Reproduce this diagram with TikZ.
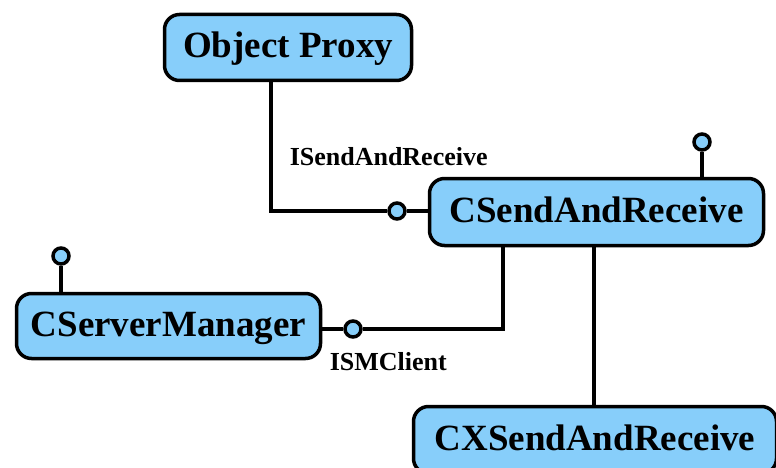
\documentclass[tikz,border=0pt]{standalone}
\usepackage{fontspec}
\setmainfont{Liberation Serif}
\definecolor{boxblue}{RGB}{135,206,250}
\begin{document}
\begin{tikzpicture}[x=1pt,y=-1pt,
  line width=3.5pt,
  cls/.style={draw=black, fill=boxblue, rounded corners=15pt, inner sep=0pt,
    font=\fontsize{37}{40}\selectfont\bfseries, text height=28pt, text depth=8pt},
  lolli/.style={circle, draw=black, fill=boxblue, minimum size=16pt, inner sep=0pt},
  iface/.style={font=\fontsize{26}{28}\selectfont\bfseries, inner sep=0pt, anchor=base west}]
\useasboundingbox (0,0) rectangle (776,468);
\clip (0,0) rectangle (776,468);

% classes
\node[cls, minimum width=247pt, minimum height=66pt] (op)   at (288,47.5) {Object Proxy};
\node[cls, minimum width=334pt, minimum height=67pt] (csr)  at (596.5,212) {CSendAndReceive};
\node[cls, minimum width=304pt, minimum height=65pt] (csm)  at (168.5,326) {CServerManager};
\node[cls, minimum width=363pt, minimum height=67pt] (cxsr) at (595,440) {CXSendAndReceive};

% interface lollipops
\node[lolli] (isr)  at (397,211) {};
\node[lolli] (csrt) at (702,142) {};
\node[lolli] (csmt) at (61,256) {};
\node[lolli] (ism)  at (353,329) {};

% interface labels
\node[iface] (lisr) at (288,165) {ISendAndReceive};
\node[iface] (lism) at (328,370) {ISMClient};

% connectors
\draw ([xshift=-17pt]op.south) |- (isr.west);
\draw (isr.east) -- (isr.east -| csr.west);
\draw (csrt.south) -- (csrt.south |- csr.north);
\draw (csmt.south) -- (csmt.south |- csm.north);
\draw (ism.west) -- (ism.west -| csm.east);
\draw (ism.east) -| ([xshift=-93.5pt]csr.south);
\draw ([xshift=-2.5pt]csr.south) -- ([xshift=-2.5pt]csr.south |- cxsr.north);
\end{tikzpicture}
\end{document}
